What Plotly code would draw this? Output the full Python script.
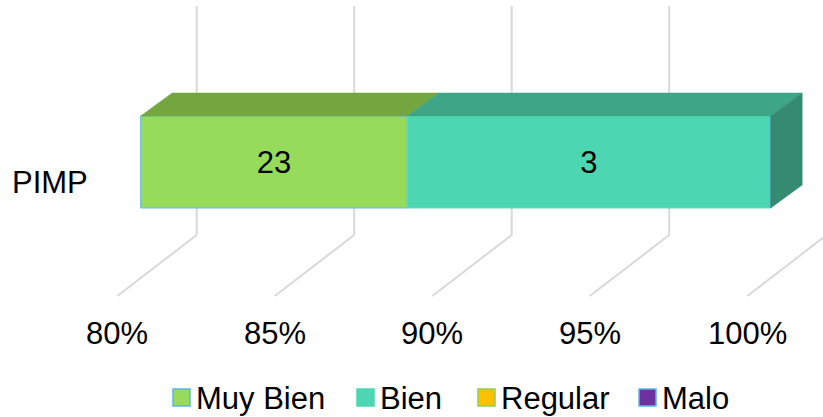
import plotly.graph_objects as go

# ---------------- data ----------------
categories = ["PIMP"]
series_names = ["Muy Bien", "Bien", "Regular", "Malo"]
muy_bien = [23]
bien = [3]
regular = [0]
malo = [0]
tick_values = [80, 85, 90, 95, 100]
tick_labels = ["80%", "85%", "90%", "95%", "100%"]

# ---------------- style ----------------
W, H = 823, 417
FONT = "Arial, 'Liberation Sans', sans-serif"
FS = 31
front_colors = ["#96DC5A", "#4CD6B1", "#FFC000", "#7030A0"]
top_colors = ["#74A640", "#3EA586", "#C79600", "#56247C"]
side_colors = ["#5E9030", "#348B72", "#A57C00", "#471E66"]
edge_colors = ["#62B8E0", "#5CDDC0", "#92D050", "#62B8E0"]
legend_border = ["#5BB5E5", "#4CD6B1", "#92D050", "#5BB5E5"]
GRID = "#D9D9D9"

PX_PER_PCT = 31.5
AXIS_MIN = 80
BAR_LEFT_PX = 140.7
BAR_CENTER_PX = 162
BAR_H = 92
DEPTH_DX = 31.5 / PX_PER_PCT
DEPTH_DY = 23
WALL_DX = 56 / PX_PER_PCT
WALL_TOP = BAR_CENTER_PX - 6
WALL_BOTTOM = BAR_CENTER_PX - 235
FLOOR_DX = -23.4 / PX_PER_PCT
FLOOR_Y = BAR_CENTER_PX - 296
TICK_LABEL_Y = BAR_CENTER_PX - 333

x_range = [AXIS_MIN - BAR_LEFT_PX / PX_PER_PCT, AXIS_MIN + (W - BAR_LEFT_PX) / PX_PER_PCT]
y_range = [BAR_CENTER_PX - H, BAR_CENTER_PX]

all_series = [muy_bien, bien, regular, malo]
fig = go.Figure()

# grid lines (back wall + floor)
for t in tick_values:
    fig.add_shape(type="line", xref="x", yref="y", layer="below",
                  x0=t + WALL_DX, x1=t + WALL_DX, y0=WALL_TOP, y1=WALL_BOTTOM,
                  line=dict(color=GRID, width=2))
    fig.add_shape(type="line", xref="x", yref="y", layer="below",
                  x0=t + WALL_DX, x1=t + FLOOR_DX, y0=WALL_BOTTOM, y1=FLOOR_Y,
                  line=dict(color=GRID, width=2))

# stacked bars (percent of total, clipped at axis min like the original)
for ci, cat in enumerate(categories):
    total = sum(s[ci] for s in all_series)
    cum = 0.0
    last_visible = None
    for si, s in enumerate(all_series):
        v = s[ci]
        p0 = cum / total * 100
        cum += v
        p1 = cum / total * 100
        start = max(p0, AXIS_MIN)
        end = max(p1, AXIS_MIN)
        fig.add_trace(go.Bar(
            y=[ci], x=[end - start], base=[start], orientation="h", width=BAR_H,
            name=series_names[si], showlegend=False,
            marker=dict(color=front_colors[si], line=dict(color=edge_colors[si], width=1)),
            text=[str(v) if v else ""], textposition="inside", insidetextanchor="middle",
            textangle=0, textfont=dict(family=FONT, size=FS, color="black"),
            hoverinfo="skip"))
        if end - start > 0:
            yt = ci + BAR_H / 2
            fig.add_trace(go.Scatter(
                x=[start, end, end + DEPTH_DX, start + DEPTH_DX, start],
                y=[yt, yt, yt + DEPTH_DY, yt + DEPTH_DY, yt],
                fill="toself", fillcolor=top_colors[si], mode="lines",
                line=dict(color=top_colors[si], width=0.5),
                showlegend=False, hoverinfo="skip"))
            last_visible = (si, end)
    if last_visible:
        si, end = last_visible
        yt = ci + BAR_H / 2
        yb = ci - BAR_H / 2
        fig.add_trace(go.Scatter(
            x=[end, end + DEPTH_DX, end + DEPTH_DX, end, end],
            y=[yt, yt + DEPTH_DY, yb + DEPTH_DY, yb, yt],
            fill="toself", fillcolor=side_colors[si], mode="lines",
            line=dict(color=side_colors[si], width=0.5),
            showlegend=False, hoverinfo="skip"))
    fig.add_annotation(x=AXIS_MIN + (90 - BAR_LEFT_PX) / PX_PER_PCT, y=ci - 20,
                       text=cat, showarrow=False, xanchor="right", yanchor="middle",
                       font=dict(family=FONT, size=FS, color="black"))

# axis tick labels at the floor front
for t, lab in zip(tick_values, tick_labels):
    fig.add_annotation(x=t + FLOOR_DX, y=TICK_LABEL_Y, text=lab, showarrow=False,
                       xanchor="center", yanchor="middle",
                       font=dict(family=FONT, size=FS, color="black"))

# legend
legend_marker_px = [173, 357, 478, 639]
for i, name in enumerate(series_names):
    x0 = legend_marker_px[i]
    fig.add_shape(type="rect", xref="paper", yref="paper",
                  x0=x0 / W, x1=(x0 + 17) / W, y0=1 - 406 / H, y1=1 - 389 / H,
                  fillcolor=front_colors[i], line=dict(color=legend_border[i], width=1.5))
    fig.add_annotation(xref="paper", yref="paper", x=(x0 + 21) / W, y=1 - 398 / H,
                       text=name, showarrow=False, xanchor="left", yanchor="middle",
                       font=dict(family=FONT, size=FS, color="black"))

fig.update_layout(
    width=W, height=H, margin=dict(l=0, r=0, t=0, b=0),
    paper_bgcolor="white", plot_bgcolor="white",
    barmode="overlay", showlegend=False,
    xaxis=dict(range=x_range, visible=False, fixedrange=True),
    yaxis=dict(range=y_range, visible=False, fixedrange=True),
)
fig.write_html("out.html", config={"displayModeBar": False},
               post_script="document.body.style.margin='0';document.body.style.overflow='hidden';")
